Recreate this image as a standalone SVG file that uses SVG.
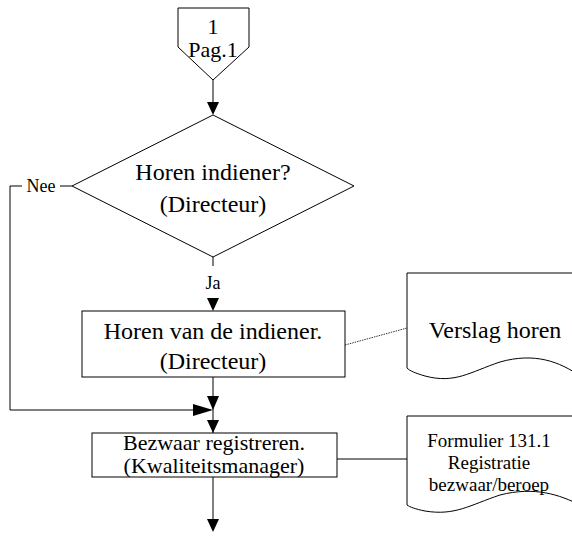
<svg xmlns="http://www.w3.org/2000/svg" width="572" height="539" viewBox="0 0 572 539">
<defs>
<style>
.s{fill:#fff;stroke:#000;stroke-width:1}
.l{fill:none;stroke:#000;stroke-width:1}
.a{fill:#000}
text{text-anchor:middle;fill:#000}
</style>
</defs>
<rect width="572" height="539" fill="#fff"/>
<g id="connectors">
<path class="l" d="M213,80 V103"/>
<path class="a" d="M207,102 L219,102 L213,115 Z"/>
<path class="l" d="M213,257 V266"/>
<path class="a" d="M207,298 L219,298 L213,311 Z"/>
<path class="l" d="M72,186 H60"/>
<path class="l" d="M22,186 H10 V410 H193"/>
<path class="a" d="M193,404 L213,410 L193,416 Z"/>
<path class="l" d="M213,377 V433"/>
<path class="a" d="M207,396 L219,396 L213,410 Z"/>
<path class="a" d="M207,420 L219,420 L213,433 Z"/>
<path class="l" d="M213,477 V520"/>
<path class="a" d="M207,519 L219,519 L213,532 Z"/>
<path d="M345,345 L407,328" fill="none" stroke="#333" stroke-width="1" stroke-dasharray="1.5,1"/>
<path class="l" d="M337,459 H407"/>
</g>
<g font-family="'Liberation Serif', 'DejaVu Serif', serif">
<g id="offpage">
<path class="s" d="M178,8 H249 V47 L213,80 L178,47 Z"/>
<text x="213" y="34" font-size="22">1</text>
<text x="213" y="57" font-size="22">Pag.1</text>
</g>
<g id="decision">
<path class="s" d="M213,115 L354,186 L213,257 L72,186 Z"/>
<text x="213" y="180" font-size="24">Horen indiener?</text>
<text x="213" y="212" font-size="24">(Directeur)</text>
</g>
<g id="label-nee">
<text x="41" y="192" font-size="18">Nee</text>
</g>
<g id="label-ja">
<text x="213" y="289" font-size="18">Ja</text>
</g>
<g id="box1">
<rect class="s" x="82" y="311" width="263" height="66"/>
<text x="213" y="339" font-size="24">Horen van de indiener.</text>
<text x="213" y="369" font-size="24">(Directeur)</text>
</g>
<g id="doc1">
<path class="s" d="M407,273 H580 V376 C560,362 535,352 500,362 C470,372 455,384 425,376 C415,373 410,371 407,368 Z"/>
<text x="495" y="338" font-size="24">Verslag horen</text>
</g>
<g id="box2">
<rect class="s" x="92" y="433" width="245" height="44"/>
<text x="214" y="450" font-size="22">Bezwaar registreren.</text>
<text x="214" y="473" font-size="22">(Kwaliteitsmanager)</text>
</g>
<g id="doc2">
<path class="s" d="M407,416 H580 V505 C560,495 535,486 500,495 C470,505 455,516 425,511 C415,509 410,507 407,505 Z"/>
<text x="489" y="447" font-size="19">Formulier 131.1</text>
<text x="489" y="469" font-size="19">Registratie</text>
<text x="489" y="491" font-size="19">bezwaar/beroep</text>
</g>
</g>
</svg>
